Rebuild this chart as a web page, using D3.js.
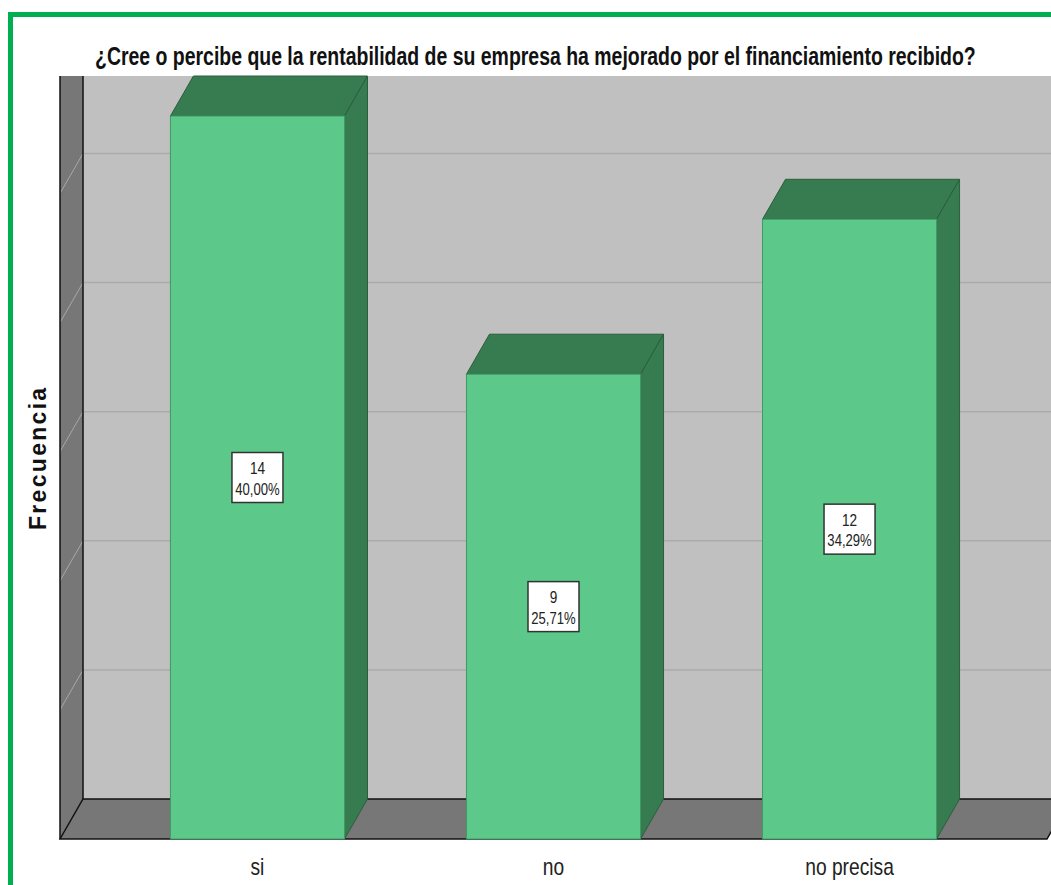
<!DOCTYPE html>
<html>
<head>
<meta charset="utf-8">
<script src="https://cdn.jsdelivr.net/npm/d3@7"></script>
<style>
  body { margin: 0; background: #fff; }
  svg { display: block; }
</style>
</head>
<body>
<div id="chart"></div>
<script>
// data
const categories = ["si", "no", "no precisa"];
const counts = [14, 9, 12];
const percents = ["40,00%", "25,71%", "34,29%"];
const yTicks = [0, 2.5, 5, 7.5, 10, 12.5];
const titleText = "¿Cree o percibe que la rentabilidad de su empresa ha mejorado por el financiamiento recibido?";

const width = 1051, height = 885;
// no Arial Narrow here, so Liberation Sans squeezed horizontally
const sans = "'Liberation Sans', Arial, sans-serif";
const squeeze = 0.8;

// 3d depth offset
const dx = 23, dy = -40;

const svg = d3.select("#chart").append("svg")
  .attr("width", width)
  .attr("height", height);

// green frame
svg.append("rect")
  .attr("x", 10.5).attr("y", 14.5)
  .attr("width", 1100).attr("height", 1000)
  .attr("fill", "none")
  .attr("stroke", "#00b050")
  .attr("stroke-width", 5);

const x = d3.scaleBand()
  .domain(categories)
  .range([60, 1047])
  .paddingInner(0.412)
  .paddingOuter(0.373);

const y = d3.scaleLinear()
  .domain([0, 14])
  .range([839, 116]);

const left = 60, right = 1047, floorY = y(0), topY = y(14) + dy;

// back wall
svg.append("rect")
  .attr("x", left + dx).attr("y", topY)
  .attr("width", width - left - dx).attr("height", floorY + dy - topY)
  .attr("fill", "#c0c0c0");

// gridlines back wall
svg.append("g")
  .selectAll("line")
  .data(yTicks.filter(d => d > 0))
  .enter()
  .append("line")
  .attr("x1", left + dx).attr("x2", width)
  .attr("y1", d => y(d) + dy).attr("y2", d => y(d) + dy)
  .attr("stroke", "#ababab")
  .attr("stroke-width", 1.5);

// left wall
svg.append("path")
  .attr("d", "M" + left + "," + topY + "L" + (left + dx) + "," + topY +
    "L" + (left + dx) + "," + (floorY + dy) + "L" + left + "," + floorY + "Z")
  .attr("fill", "#777777");

// diagonal gridlines on left wall
svg.append("g")
  .selectAll("line")
  .data(yTicks.filter(d => d > 0))
  .enter()
  .append("line")
  .attr("x1", left + dx).attr("y1", d => y(d) + dy)
  .attr("x2", left).attr("y2", d => y(d))
  .attr("stroke", "#a8a8a8")
  .attr("stroke-width", 1);

// wall edges
svg.append("line")
  .attr("x1", left).attr("x2", left)
  .attr("y1", topY).attr("y2", floorY)
  .attr("stroke", "#111").attr("stroke-width", 1.5);
svg.append("line")
  .attr("x1", left + dx).attr("x2", left + dx)
  .attr("y1", topY).attr("y2", floorY + dy)
  .attr("stroke", "#111").attr("stroke-width", 1.5);

// floor
svg.append("path")
  .attr("d", "M" + left + "," + floorY + "L" + (left + dx) + "," + (floorY + dy) +
    "L" + (right + dx) + "," + (floorY + dy) + "L" + right + "," + floorY + "Z")
  .attr("fill", "#777777")
  .attr("stroke", "#111")
  .attr("stroke-width", 1.5);

// bars
const bars = svg.append("g")
  .selectAll("g")
  .data(categories)
  .enter()
  .append("g");

// top face
bars.append("path")
  .attr("d", function (d, i) {
    const x0 = x(d), x1 = x(d) + x.bandwidth(), yt = y(counts[i]);
    return "M" + x0 + "," + yt + "L" + x1 + "," + yt + "L" + (x1 + dx) + "," + (yt + dy) +
      "L" + (x0 + dx) + "," + (yt + dy) + "Z";
  })
  .attr("fill", "#377b51")
  .attr("stroke", "#2a5e3d")
  .attr("stroke-width", 1);

// side face
bars.append("path")
  .attr("d", function (d, i) {
    const x1 = x(d) + x.bandwidth(), yt = y(counts[i]);
    return "M" + x1 + "," + yt + "L" + (x1 + dx) + "," + (yt + dy) +
      "L" + (x1 + dx) + "," + (floorY + dy) + "L" + x1 + "," + floorY + "Z";
  })
  .attr("fill", "#377b51")
  .attr("stroke", "#2a5e3d")
  .attr("stroke-width", 1);

// front face
bars.append("rect")
  .attr("x", d => x(d))
  .attr("y", (d, i) => y(counts[i]))
  .attr("width", x.bandwidth())
  .attr("height", (d, i) => floorY - y(counts[i]))
  .attr("fill", "#5cc98b")
  .attr("stroke", "#3f9a64")
  .attr("stroke-width", 1);

// value boxes
const midY = (d, i) => (y(counts[i]) + floorY) / 2;
bars.append("rect")
  .attr("x", d => x(d) + x.bandwidth() / 2 - 25.5)
  .attr("y", (d, i) => midY(d, i) - 25)
  .attr("width", 51)
  .attr("height", 50)
  .attr("fill", "#fff")
  .attr("stroke", "#333")
  .attr("stroke-width", 1.5);

bars.append("text")
  .attr("transform", (d, i) => "translate(" + (x(d) + x.bandwidth() / 2) + "," + (midY(d, i) - 3.5) + ") scale(" + squeeze + ",1)")
  .attr("text-anchor", "middle")
  .attr("font-family", sans)
  .attr("font-size", 17)
  .attr("fill", "#222")
  .text((d, i) => counts[i]);

bars.append("text")
  .attr("transform", (d, i) => "translate(" + (x(d) + x.bandwidth() / 2) + "," + (midY(d, i) + 17) + ") scale(0.77,1)")
  .attr("text-anchor", "middle")
  .attr("font-family", sans)
  .attr("font-size", 17)
  .attr("fill", "#222")
  .text((d, i) => percents[i]);

// x axis labels
svg.append("g")
  .selectAll("text")
  .data(categories)
  .enter()
  .append("text")
  .attr("transform", d => "translate(" + (x(d) + x.bandwidth() / 2) + ",875) scale(" + squeeze + ",1)")
  .attr("text-anchor", "middle")
  .attr("font-family", sans)
  .attr("font-size", 24)
  .attr("fill", "#222")
  .text(d => d);

// title, squeezed to the width it has in the picture
const title = svg.append("text")
  .attr("font-family", sans)
  .attr("font-weight", "bold")
  .attr("font-size", 26)
  .attr("fill", "#111")
  .text(titleText);
const titleScale = 881 / title.node().getComputedTextLength();
title.attr("transform", "translate(95,65) scale(" + titleScale + ",1)");

// y axis title
svg.append("text")
  .attr("transform", "translate(46,530) rotate(-90)")
  .attr("font-family", sans)
  .attr("font-weight", "bold")
  .attr("font-size", 23)
  .attr("letter-spacing", 2.3)
  .attr("fill", "#111")
  .text("Frecuencia");
</script>
</body>
</html>
